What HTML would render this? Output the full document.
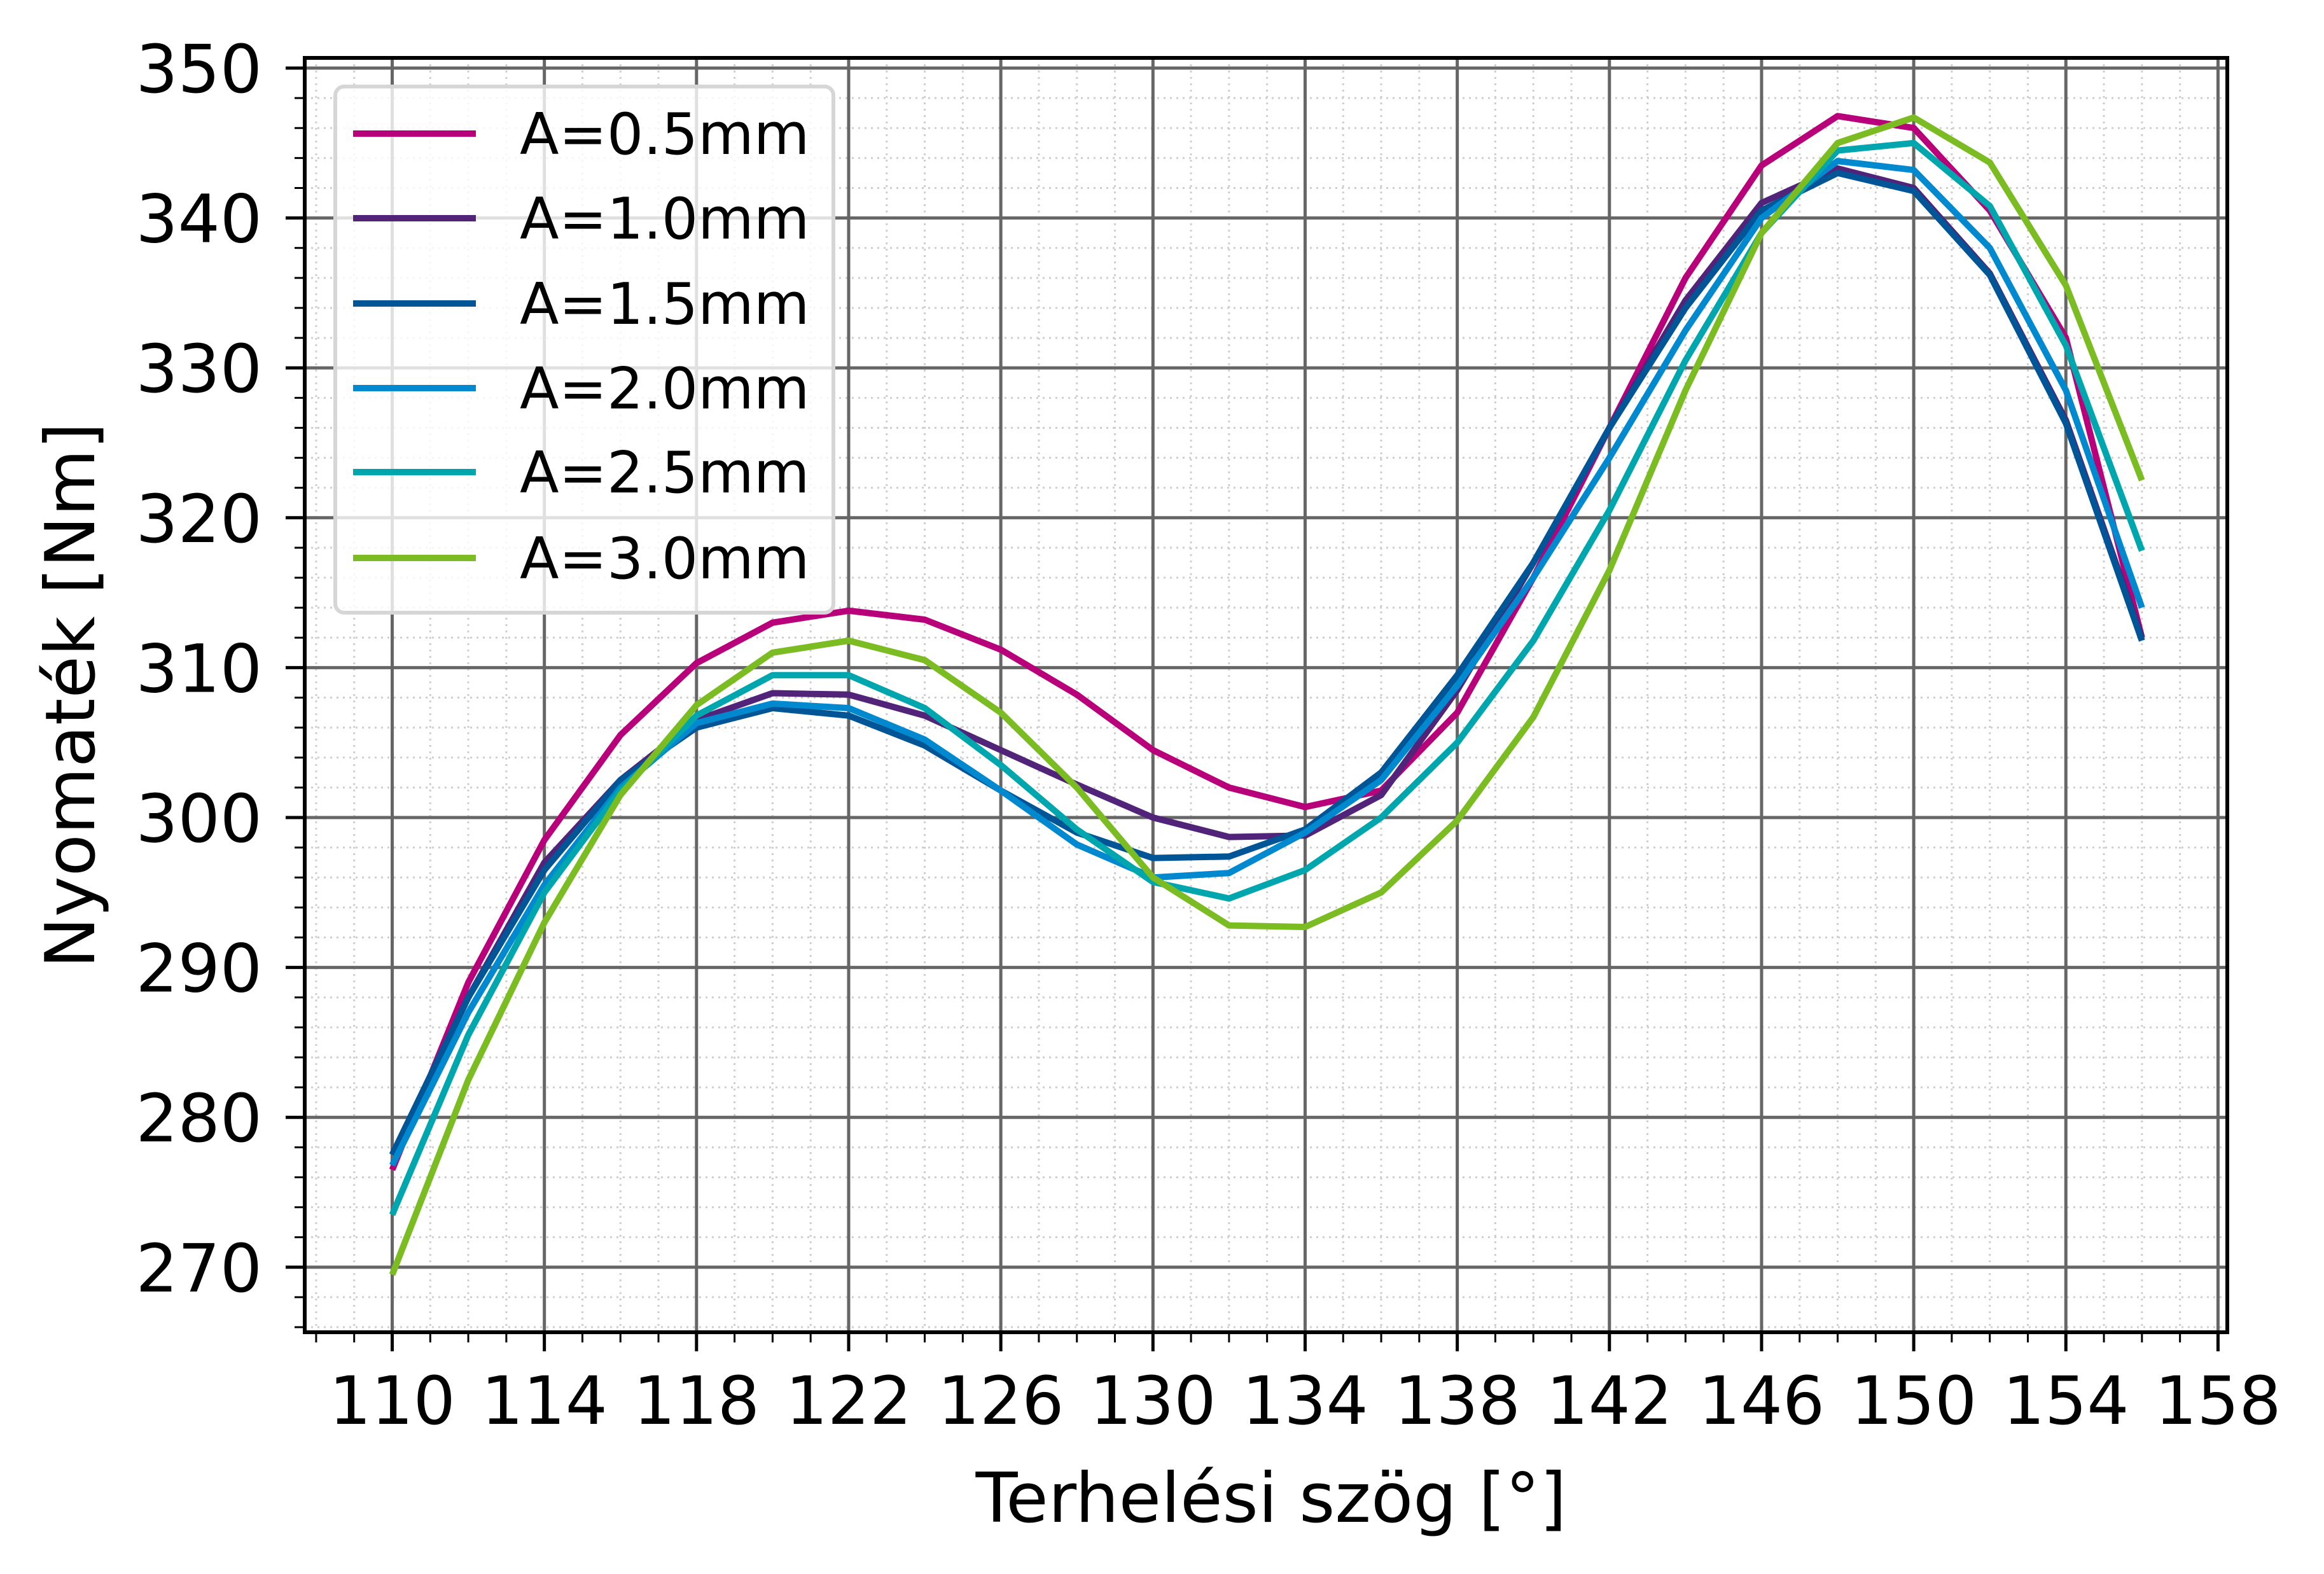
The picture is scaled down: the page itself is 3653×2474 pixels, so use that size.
<!DOCTYPE html>
<html><head><meta charset="utf-8"><style>
html,body{margin:0;padding:0;background:#fff}
svg{display:block;font-family:"DejaVu Sans","Liberation Sans",sans-serif}
</style></head><body>
<svg id="chart" width="3653" height="2474" viewBox="0 0 3653 2474" xmlns="http://www.w3.org/2000/svg">
<rect width="3653" height="2474" fill="#fff"/>
<g id="grid"></g>
<g id="series"></g>
<g id="axes"></g>
<text x="1998" y="2392" font-size="108" text-anchor="middle">Terhelési szög [°]</text>
<text transform="translate(148,1093) rotate(-90)" font-size="108" text-anchor="middle">Nyomaték [Nm]</text>
<g id="legend"></g>
</svg>
<script>
const angles=[110,112,114,116,118,120,122,124,126,128,130,132,134,136,138,140,142,144,146,148,150,152,154,156];
const seriesNames=["A=0.5mm","A=1.0mm","A=1.5mm","A=2.0mm","A=2.5mm","A=3.0mm"];
const seriesColors=["#b8007a","#51247a","#005596","#0089cf","#00a6ad","#7abc22"];
const s05=[276.5,289,298.5,305.5,310.3,313,313.8,313.2,311.2,308.2,304.5,302,300.7,301.8,307,316,326,336,343.5,346.8,346,340.5,332,312];
const s10=[277.5,288,297,302.5,306.5,308.3,308.2,306.8,304.5,302.2,300,298.7,298.8,301.5,308.5,317,326,334.5,341,343.3,342,336.3,326.5,312];
const s15=[277.5,288,296.5,302.5,306,307.3,306.8,304.8,301.8,299,297.3,297.4,299.2,303,309.5,317,326,334,340.5,343,341.8,336.2,326.3,311.8];
const s20=[276.8,287,295.5,302,306.3,307.6,307.3,305.2,301.8,298.2,296,296.3,299,302.5,308.8,316,324,332.5,340,343.8,343.2,338,328.5,314];
const s25=[273.5,285.5,295,301.8,306.8,309.5,309.5,307.3,303.5,299.2,295.7,294.6,296.5,300,305,311.8,320.5,330.5,339,344.5,345,340.8,331.5,317.8];
const s30=[269.5,282.5,293,301.5,307.5,311,311.8,310.5,307,302,296,292.8,292.7,295,299.8,306.7,316.5,328.5,339,345,346.7,343.7,335.5,322.5];
const allSeries=[s05,s10,s15,s20,s25,s30];
const xTicks=[110,114,118,122,126,130,134,138,142,146,150,154,158];
const yTicks=[270,280,290,300,310,320,330,340,350];

const NS="http://www.w3.org/2000/svg";
const L=479,R=3501,T=91,B=2094;
const X=v=>616.5+(v-110)*59.79;
const Y=v=>107+(350-v)*23.56;
function mk(tag,attrs,parent){const e=document.createElementNS(NS,tag);for(const k in attrs)e.setAttribute(k,attrs[k]);parent.appendChild(e);return e;}
const grid=document.getElementById('grid'),axes=document.getElementById('axes'),ser=document.getElementById('series'),leg=document.getElementById('legend');
for(let v=108;v<=158;v++){if(v%4===2)continue;const e=mk('line',{x1:X(v),x2:X(v),y1:T,y2:B,stroke:"#cfcfcf","stroke-width":3,"stroke-dasharray":"3,7"},grid);


const t=mk('line',{x1:X(v),x2:X(v),y1:B,y2:B+16,stroke:"#000","stroke-width":3},axes);

}
for(let v=266;v<=350;v+=2){if(v%10===0)continue;const e=mk('line',{x1:L,x2:R,y1:Y(v),y2:Y(v),stroke:"#cfcfcf","stroke-width":3,"stroke-dasharray":"3,7"},grid);


const t=mk('line',{x1:L-16,x2:L,y1:Y(v),y2:Y(v),stroke:"#000","stroke-width":3},axes);

}
xTicks.forEach(v=>{const e=mk('line',{x1:X(v),x2:X(v),y1:T,y2:B,stroke:"#666","stroke-width":5},grid);


const t=mk('line',{x1:X(v),x2:X(v),y1:B,y2:B+30,stroke:"#000","stroke-width":5},axes);


const lb=mk('text',{x:X(v),y:2238,"font-size":104,"text-anchor":"middle"},axes);lb.textContent=v;

});
yTicks.forEach(v=>{const e=mk('line',{x1:L,x2:R,y1:Y(v),y2:Y(v),stroke:"#666","stroke-width":5},grid);


const t=mk('line',{x1:L-30,x2:L,y1:Y(v),y2:Y(v),stroke:"#000","stroke-width":5},axes);


const lb=mk('text',{x:412,y:Y(v)+38,"font-size":104,"text-anchor":"end"},axes);lb.textContent=v;

});
const fr=mk('rect',{x:L,y:T,width:R-L,height:B-T,fill:"none",stroke:"#000","stroke-width":6},axes);


allSeries.forEach((d,i)=>{const pts=d.map((v,j)=>X(angles[j]).toFixed(1)+","+Y(v).toFixed(1)).join(" ");
const p=mk('polyline',{points:pts,fill:"none",stroke:seriesColors[i],"stroke-width":10,"stroke-linejoin":"round"},ser);

});
const box=mk('rect',{x:527,y:136,width:783,height:827,rx:14,fill:"#fff","fill-opacity":0.8,stroke:"#d6d6d6","stroke-width":6},leg);


const ly=[210,343,477,610,742,877];
seriesNames.forEach((n,i)=>{const g=mk('g',{},leg);


mk('line',{x1:555,x2:748,y1:ly[i],y2:ly[i],stroke:seriesColors[i],"stroke-width":10},g);
const t=mk('text',{x:817,y:ly[i]+32,"font-size":90},g);t.textContent=n;});
</script>
</body></html>
